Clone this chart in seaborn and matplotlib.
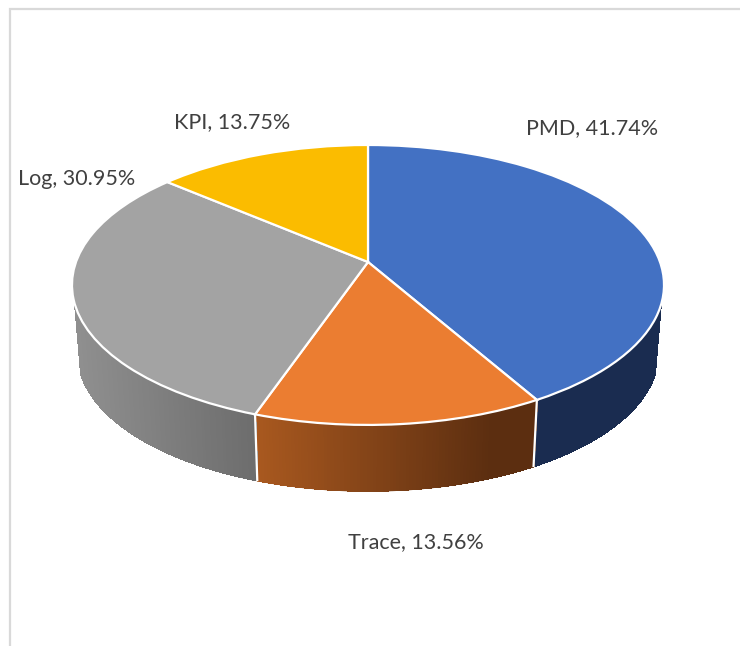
import numpy as np
import matplotlib
matplotlib.use("Agg")
import matplotlib.pyplot as plt
from matplotlib.collections import PolyCollection
from matplotlib.transforms import Transform
import seaborn as sns

# --- data ---
categories = ["PMD", "Trace", "Log", "KPI"]
shares = [41.74, 13.56, 30.95, 13.75]

# --- styles ---
top_colors = sns.color_palette(["#4371C3", "#EB7D31", "#A3A3A3", "#FBBC00"])
wall_left = {"PMD": "#1A2C50", "Trace": "#A8581F", "Log": "#909090"}
wall_right = {"PMD": "#1A2C50", "Trace": "#5C2E10", "Log": "#6C6C6C"}
wall_span = {"PMD": (530, 670), "Trace": (258, 490), "Log": (70, 258)}
label_xy = [(592.5, 128), (415.5, 542), (76.5, 179), (232.5, 122)]
text_color = "#404040"
frame_color = "#D9D9D9"

sns.set_theme(style="white")
plt.rcParams["font.family"] = ["Lato", "DejaVu Sans"]

# Perspective projection of the unit disc onto the page
APEX_X, APEX_Y = 368.0, 262.0
K, A, B = 0.164, 136.2, 292.0
DEPTH, SHRINK = 70.0, 0.98


class DiscPerspective(Transform):
    input_dims = output_dims = 2
    is_separable = False
    has_inverse = False

    def __init__(self, scale=1.0, drop=0.0):
        super().__init__()
        self.scale, self.drop = scale, drop

    def transform_non_affine(self, values):
        values = np.asarray(values, dtype=float)
        x, y = values[:, 0], values[:, 1]
        d = 1 + K * y
        return np.column_stack([
            APEX_X + self.scale * B * x / d,
            APEX_Y + self.drop - self.scale * A * y / d,
        ])


top = DiscPerspective()
bottom = DiscPerspective(SHRINK, DEPTH)


def unit(theta):
    return np.column_stack([np.cos(theta), np.sin(theta)])


fig = plt.figure(figsize=(7.4, 6.46), dpi=100, facecolor="white")
ax = fig.add_axes([0, 0, 1, 1])

# side wall, one strip per slice on the visible front of the disc
vis_start = np.radians(-18.0)
vis_end = np.radians(-162.0)
bounds = 90 - np.concatenate([[0], np.cumsum(shares)]) * 3.6
for i, name in enumerate(categories):
    t0 = max(np.radians(bounds[i + 1]), vis_end)
    t1 = min(np.radians(bounds[i]), vis_start)
    if t1 <= t0 or name not in wall_left:
        continue
    th = np.linspace(t1, t0, 90)
    up = top.transform_non_affine(unit(th))
    lo = bottom.transform_non_affine(unit(th))
    c0 = np.array(matplotlib.colors.to_rgb(wall_left[name]))
    c1 = np.array(matplotlib.colors.to_rgb(wall_right[name]))
    x0, x1 = wall_span[name]
    quads, inner, cols = [], [], []
    for j in range(len(th) - 1):
        quads.append([up[j], up[j + 1], lo[j + 1], lo[j]])
        inner.append([up[j], up[j + 1],
                      lo[j + 1] - [0, 1.0], lo[j] - [0, 1.0]])
        f = np.clip(((up[j, 0] + up[j + 1, 0]) / 2 - x0) / (x1 - x0), 0, 1)
        cols.append(c0 + (c1 - c0) * f)
    # antialiased layer gives the smooth outline, the crisp layer the even fill
    ax.add_collection(PolyCollection(quads, facecolors=cols, edgecolors="none",
                                     zorder=1))
    ax.add_collection(PolyCollection(inner, facecolors=cols, edgecolors=cols,
                                     linewidths=1.0, antialiaseds=False, zorder=1.1))

# white seams on the wall
for b in bounds[1:-1]:
    t = np.radians(b)
    if vis_end < t < vis_start or vis_end < t + 2 * np.pi < vis_start:
        p = np.vstack([top.transform_non_affine(unit(np.array([t]))),
                       bottom.transform_non_affine(unit(np.array([t])))])
        ax.plot(p[:, 0], p[:, 1], color="white", lw=1.6, zorder=1.5,
                solid_capstyle="butt")

# top face
ax.pie(shares, colors=top_colors, startangle=90, counterclock=False, radius=1,
       wedgeprops=dict(edgecolor="white", linewidth=1.6, transform=top + ax.transData,
                       zorder=2))

ax.set_aspect("auto")
ax.set_xlim(0, 740)
ax.set_ylim(646, 0)
ax.axis("off")

# labels
for name, v, (lx, ly) in zip(categories, shares, label_xy):
    ax.text(lx, ly, f"{name}, {v:.2f}%", ha="center", va="center", fontsize=15.5,
            color=text_color, zorder=3)

# partial chart frame
ax.plot([10, 10, 740], [646, 9, 9], color=frame_color, lw=1.6, zorder=0,
        solid_joinstyle="miter")

fig.savefig("out.png", dpi=100)
